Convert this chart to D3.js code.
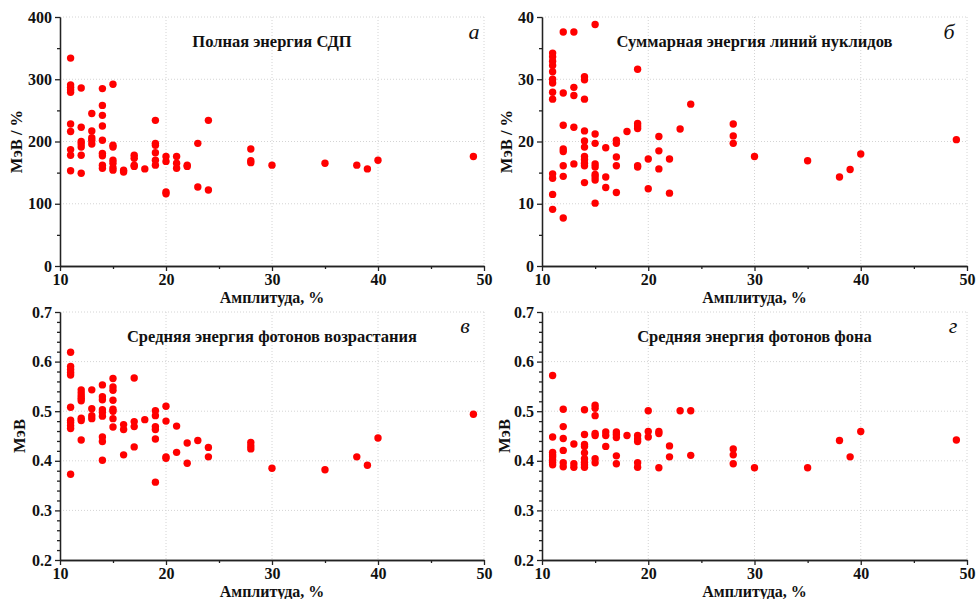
<!DOCTYPE html>
<html>
<head>
<meta charset="utf-8">
<script src="https://cdn.jsdelivr.net/npm/d3@7"></script>
<style>
  body { margin: 0; background: #fff; }
  svg { display: block; }
  .tick text { font-family: "Liberation Serif", serif; font-weight: bold; font-size: 16px; fill: #111; }
  .domain, .tick line { stroke: #222; stroke-width: 1.3; }
</style>
</head>
<body>
<div id="vis"></div>
<script>
const WIDTH = 976;
const HEIGHT = 599;

// amplitude, % -> values
const fullEnergy = [
  [11, [334, 291, 287, 283, 279, 228, 216, 187, 178, 153]],
  [12, [286, 223, 200, 196, 191, 178, 149]],
  [13, [245, 217, 206, 202, 196]],
  [14, [285, 258, 242, 225, 202, 181, 177, 162, 157]],
  [15, [292, 194, 191, 170, 165, 158, 154]],
  [16, [154, 151]],
  [17, [178, 173, 162, 160]],
  [18, [156]],
  [19, [234, 197, 194, 182, 170, 162]],
  [20, [176, 168, 119, 116]],
  [21, [176, 165, 157]],
  [22, [162, 160]],
  [23, [197, 127]],
  [24, [234, 122]],
  [28, [188, 169, 166]],
  [30, [162]],
  [35, [165]],
  [38, [162]],
  [39, [156]],
  [40, [170]],
  [49, [176]]
];

const lineEnergy = [
  [11, [34.2, 33.6, 32.9, 32.2, 31.2, 30.0, 29.4, 27.9, 26.8, 14.8, 14.1, 11.5, 9.1]],
  [12, [37.6, 27.8, 22.6, 18.8, 18.4, 16.1, 14.4, 7.7]],
  [13, [37.6, 28.7, 27.4, 22.3, 16.4]],
  [14, [30.4, 29.9, 26.8, 21.7, 20.1, 19.1, 17.6, 17.1, 16.5, 16.1, 13.4]],
  [15, [38.8, 21.2, 19.7, 16.4, 15.9, 14.7, 14.3, 13.8, 10.1]],
  [16, [19.0, 14.3, 12.6]],
  [17, [20.2, 19.7, 17.5, 16.1, 11.8]],
  [18, [21.6]],
  [19, [31.6, 22.9, 22.5, 22.1, 16.1, 15.9]],
  [20, [17.2, 12.4]],
  [21, [20.8, 18.5, 15.6]],
  [22, [17.2, 11.7]],
  [23, [22.0]],
  [24, [26.0]],
  [28, [22.8, 20.9, 19.7]],
  [30, [17.6]],
  [35, [16.9]],
  [38, [14.3]],
  [39, [15.5]],
  [40, [18.0]],
  [49, [20.3]]
];

const riseEnergy = [
  [11, [0.619, 0.590, 0.584, 0.578, 0.573, 0.508, 0.482, 0.477, 0.471, 0.465, 0.373]],
  [12, [0.543, 0.537, 0.531, 0.526, 0.521, 0.486, 0.481, 0.442]],
  [13, [0.543, 0.505, 0.491, 0.485]],
  [14, [0.553, 0.529, 0.523, 0.503, 0.498, 0.490, 0.448, 0.439, 0.401]],
  [15, [0.566, 0.549, 0.542, 0.522, 0.504, 0.500, 0.485, 0.468]],
  [16, [0.473, 0.463, 0.412]],
  [17, [0.567, 0.479, 0.469, 0.428]],
  [18, [0.483]],
  [19, [0.501, 0.491, 0.469, 0.463, 0.444, 0.357]],
  [20, [0.510, 0.480, 0.408, 0.405]],
  [21, [0.470, 0.417]],
  [22, [0.436, 0.395]],
  [23, [0.441]],
  [24, [0.427, 0.408]],
  [28, [0.437, 0.430, 0.424]],
  [30, [0.385]],
  [35, [0.382]],
  [38, [0.408]],
  [39, [0.391]],
  [40, [0.446]],
  [49, [0.494]]
];

const backEnergy = [
  [11, [0.572, 0.448, 0.417, 0.412, 0.408, 0.402, 0.397, 0.392]],
  [12, [0.504, 0.469, 0.445, 0.421, 0.396, 0.388]],
  [13, [0.434, 0.394, 0.387]],
  [14, [0.503, 0.453, 0.433, 0.429, 0.416, 0.404, 0.397, 0.392, 0.387]],
  [15, [0.512, 0.506, 0.491, 0.455, 0.451, 0.404, 0.396]],
  [16, [0.458, 0.451, 0.429]],
  [17, [0.458, 0.453, 0.447, 0.410, 0.394]],
  [18, [0.451]],
  [19, [0.451, 0.444, 0.439, 0.396, 0.387]],
  [20, [0.501, 0.459, 0.448]],
  [21, [0.459, 0.455, 0.386]],
  [22, [0.430, 0.408]],
  [23, [0.501]],
  [24, [0.501, 0.411]],
  [28, [0.424, 0.412, 0.394]],
  [30, [0.386]],
  [35, [0.386]],
  [38, [0.441]],
  [39, [0.408]],
  [40, [0.459]],
  [49, [0.442]]
];

const xTicks = [10, 20, 30, 40, 50];
const xMinor = [15, 25, 35, 45];
const yTicksFull = [0, 100, 200, 300, 400];
const yMinorFull = [50, 150, 250, 350];
const yTicksLine = [0, 10, 20, 30, 40];
const yMinorLine = [5, 15, 25, 35];
const yTicksPhoton = [0.2, 0.3, 0.4, 0.5, 0.6, 0.7];
const yMinorPhoton = [0.22, 0.24, 0.26, 0.28, 0.32, 0.34, 0.36, 0.38, 0.42, 0.44, 0.46, 0.48,
                      0.52, 0.54, 0.56, 0.58, 0.62, 0.64, 0.66, 0.68];

const titles = ["Полная энергия СДП", "Суммарная энергия линий нуклидов",
                "Средняя энергия фотонов возрастания", "Средняя энергия фотонов фона"];
const letters = ["а", "б", "в", "г"];
const yTitles = ["МэВ / %", "МэВ / %", "МэВ", "МэВ"];
const xTitle = "Амплитуда, %";

const panels = [
  {data: fullEnergy, ticks: yTicksFull, minor: yMinorFull, fmt: d3.format("d"),
   left: 60, right: 484, top: 17, bottom: 266, yTitleX: 17, letterX: 474, letterY: 39},
  {data: lineEnergy, ticks: yTicksLine, minor: yMinorLine, fmt: d3.format("d"),
   left: 542, right: 967, top: 17, bottom: 266, yTitleX: 507, letterX: 949, letterY: 39},
  {data: riseEnergy, ticks: yTicksPhoton, minor: yMinorPhoton, fmt: d3.format(".1f"),
   left: 60, right: 484, top: 312, bottom: 560, yTitleX: 20, letterX: 465, letterY: 333},
  {data: backEnergy, ticks: yTicksPhoton, minor: yMinorPhoton, fmt: d3.format(".1f"),
   left: 542, right: 967, top: 312, bottom: 560, yTitleX: 505, letterX: 953, letterY: 333}
];

const svg = d3.select("#vis").append("svg")
  .attr("width", WIDTH)
  .attr("height", HEIGHT);

panels.forEach(function (p, i) {
  const x = d3.scaleLinear().domain([10, 50]).range([p.left, p.right]);
  const y = d3.scaleLinear().domain([p.ticks[0], p.ticks[p.ticks.length - 1]]).range([p.bottom, p.top]);
  const g = svg.append("g");

  // dotted grid
  g.selectAll(".gx").data(xTicks.slice(1)).enter().append("line")
    .attr("x1", d => x(d)).attr("x2", d => x(d))
    .attr("y1", p.top).attr("y2", p.bottom)
    .attr("stroke", "#d4d4d4").attr("stroke-dasharray", "1,2");
  g.selectAll(".gy").data(p.ticks.slice(1)).enter().append("line")
    .attr("x1", p.left).attr("x2", p.right)
    .attr("y1", d => y(d)).attr("y2", d => y(d))
    .attr("stroke", "#d4d4d4").attr("stroke-dasharray", "1,2");

  // axes
  g.append("g").attr("transform", "translate(0," + p.bottom + ")")
    .call(d3.axisBottom(x).tickValues(xMinor).tickSize(3).tickSizeOuter(0).tickFormat(""));
  g.append("g").attr("transform", "translate(0," + p.bottom + ")")
    .call(d3.axisBottom(x).tickValues(xTicks).tickSize(5).tickSizeOuter(0).tickPadding(3));
  g.append("g").attr("transform", "translate(" + p.left + ",0)")
    .call(d3.axisLeft(y).tickValues(p.minor).tickSize(3).tickSizeOuter(0).tickFormat(""));
  g.append("g").attr("transform", "translate(" + p.left + ",0)")
    .call(d3.axisLeft(y).tickValues(p.ticks).tickSize(5).tickSizeOuter(0).tickPadding(3).tickFormat(p.fmt));

  // points
  const pts = [];
  p.data.forEach(function (row) {
    row[1].forEach(function (v) { pts.push({a: row[0], v: v}); });
  });
  g.selectAll("circle").data(pts).enter().append("circle")
    .attr("cx", d => x(d.a))
    .attr("cy", d => y(d.v))
    .attr("r", 3.7)
    .attr("fill", "#ff0000");

  const cx = (p.left + p.right) / 2;
  g.append("text")
    .attr("x", cx).attr("y", p.top + 30)
    .attr("text-anchor", "middle")
    .attr("font-family", "Liberation Serif, serif").attr("font-weight", "bold").attr("font-size", "16.5px")
    .attr("fill", "#111")
    .text(titles[i]);

  g.append("text")
    .attr("x", p.letterX).attr("y", p.letterY)
    .attr("text-anchor", "middle")
    .attr("font-family", "Liberation Serif, serif").attr("font-style", "italic").attr("font-size", "22px")
    .attr("fill", "#111")
    .text(letters[i]);

  g.append("text")
    .attr("x", cx).attr("y", p.bottom + 37)
    .attr("text-anchor", "middle")
    .attr("font-family", "Liberation Serif, serif").attr("font-weight", "bold").attr("font-size", "16px")
    .attr("fill", "#111")
    .text(xTitle);

  g.append("text")
    .attr("transform", "translate(" + (p.yTitleX + 5) + "," + ((p.top + p.bottom) / 2) + ") rotate(-90)")
    .attr("text-anchor", "middle")
    .attr("font-family", "Liberation Serif, serif").attr("font-weight", "bold").attr("font-size", "16.5px")
    .attr("fill", "#111")
    .text(yTitles[i]);
});
</script>
</body>
</html>
